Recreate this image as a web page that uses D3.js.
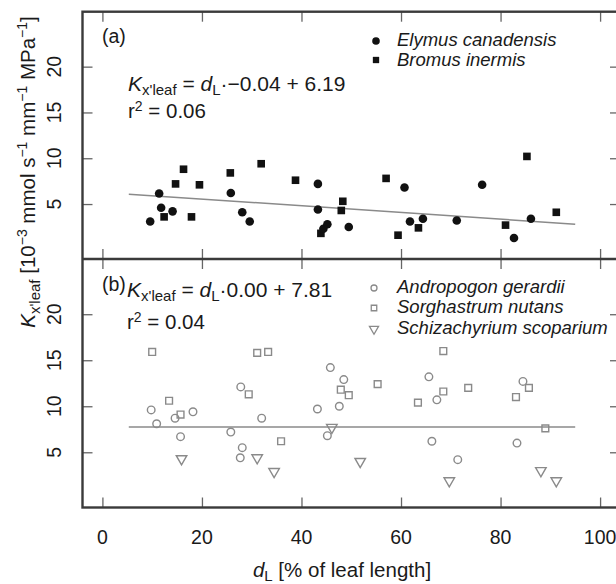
<html>
<script src="https://d3js.org/d3.v7.min.js"></script>
<style>
    body { margin: 0; background: #fff; }
    text { font-family: "Liberation Sans", Arial, sans-serif; fill: #1a1a1a; }
</style>
<svg width=616 height=584></svg>
<script>

    // values: [d_L, K]
    let elymus = [[9.6,3.1],[11.4,6.15],[11.8,4.6],[14.1,4.2],[25.8,6.2],[28.1,4.1],[29.6,3.1],
        [43.3,7.2],[43.3,4.4],[44.4,2.3],[45.2,2.8],[49.5,2.5],[60.7,6.8],[61.8,3.1],[64.4,3.4],
        [71.2,3.2],[76.3,7.1],[82.7,1.3],[86.1,3.4]];
    let bromus = [[12.4,3.6],[14.7,7.2],[16.3,8.8],[17.9,3.6],[19.5,7.1],[25.7,8.4],[31.9,9.4],
        [38.8,7.6],[43.9,1.8],[48.0,4.3],[48.3,5.3],[57.0,7.8],[59.4,1.6],[63.5,2.4],[81.0,2.7],
        [85.3,10.2],[91.2,4.1]];
    let andropogon = [[9.8,9.6],[10.9,8.1],[14.6,8.7],[15.7,6.7],[18.2,9.4],[25.8,7.2],[27.8,12.1],
        [28.1,5.5],[27.7,4.4],[32.0,8.7],[43.2,9.7],[45.8,14.2],[48.5,12.9],[47.6,10.0],[45.2,6.8],
        [65.6,13.2],[67.2,10.7],[66.2,6.2],[71.4,4.2],[84.5,12.7],[83.3,6.0]];
    let sorghastrum = [[10.0,15.9],[13.4,10.6],[15.7,9.1],[29.4,11.3],[31.1,15.8],[33.3,15.9],
        [35.9,6.2],[47.9,11.8],[49.5,11.2],[55.3,12.4],[63.4,10.4],[68.5,11.6],[68.5,16.0],
        [73.5,12.0],[83.1,11.0],[85.7,12.0],[89.0,7.6]];
    let schizachyrium = [[15.9,4.3],[31.1,4.4],[34.5,2.9],[46.1,7.7],[51.8,4.0],[69.7,1.9],
        [88.1,3.0],[91.2,1.9]];

    // fitted lines, end points
    let fitA = [[5.3,6.08],[95,2.8]];
    let fitB = [[5.3,7.76],[95,7.76]];

    let xTicks = [0,20,40,60,80,100];
    let yTicks = [5,10,15,20];

    let svg = d3.select('svg');
    let ink = '#3a3a3a', grey = '#8a8a8a';

    let x = d3.scaleLinear().domain([-4,104]).range([82.5,620]);
    let yA = d3.scaleLinear().domain([-1,26]).range([259,11.7]);
    let yB = d3.scaleLinear().domain([-1,26]).range([507.5,259]);

    function frameAxes(y) {
        let [b, t] = y.range();
        let g = svg.append('g');
        [[d3.axisBottom(x), b], [d3.axisTop(x), t]].forEach(([ax, pos]) => {
            g.append('g').attr('transform', 'translate(0,' + pos + ')')
                .call(ax.tickValues(xTicks).tickSize(-10).tickFormat(''))
                .call(a => a.select('.domain').remove())
                .selectAll('line').attr('stroke', '#666').attr('stroke-width', 1.3);
        });
        [[d3.axisLeft(y), x.range()[0]], [d3.axisRight(y), x.range()[1]]].forEach(([ax, pos]) => {
            g.append('g').attr('transform', 'translate(' + pos + ',0)')
                .call(ax.tickValues(yTicks).tickSize(-10).tickFormat(''))
                .call(a => a.select('.domain').remove())
                .selectAll('line').attr('stroke', '#666').attr('stroke-width', 1.3);
        });
        g.selectAll('.ylab').data(yTicks).enter().append('text')
            .attr('transform', d => 'translate(61,' + y(d) + ') rotate(-90)')
            .attr('text-anchor', 'middle').style('font-size', '19.5px')
            .text(d => d);
    }
    frameAxes(yA);
    frameAxes(yB);

    svg.append('g').selectAll('text').data(xTicks).enter().append('text')
        .attr('x', d => x(d)).attr('y', 544)
        .attr('text-anchor', 'middle').style('font-size', '19.5px')
        .text(d => d);

    let line = y => d3.line().x(d => x(d[0])).y(d => y(d[1]));
    svg.append('path').datum(fitA).attr('d', line(yA))
        .attr('stroke', grey).attr('stroke-width', 1.5).attr('fill', 'none');
    svg.append('path').datum(fitB).attr('d', line(yB))
        .attr('stroke', grey).attr('stroke-width', 1.5).attr('fill', 'none');

    let sq = d3.symbol().type(d3.symbolSquare);
    let tri = d3.symbol().type(d3.symbolTriangle);

    // panel (a)
    svg.append('g').selectAll('path').data(bromus).enter().append('path')
        .attr('d', sq.size(58)())
        .attr('transform', d => 'translate(' + x(d[0]) + ',' + yA(d[1]) + ')')
        .attr('fill', '#111');
    svg.append('g').selectAll('circle').data(elymus).enter().append('circle')
        .attr('cx', d => x(d[0])).attr('cy', d => yA(d[1])).attr('r', 4.3)
        .attr('fill', '#111');

    // panel (b)
    svg.append('g').selectAll('circle').data(andropogon).enter().append('circle')
        .attr('cx', d => x(d[0])).attr('cy', d => yB(d[1])).attr('r', 3.8)
        .attr('fill', 'none').attr('stroke', grey).attr('stroke-width', 1.4);
    svg.append('g').selectAll('path').data(sorghastrum).enter().append('path')
        .attr('d', sq.size(46)())
        .attr('transform', d => 'translate(' + x(d[0]) + ',' + yB(d[1]) + ')')
        .attr('fill', 'none').attr('stroke', grey).attr('stroke-width', 1.4);
    svg.append('g').selectAll('path').data(schizachyrium).enter().append('path')
        .attr('d', tri.size(48)())
        .attr('transform', d => 'translate(' + x(d[0]) + ',' + yB(d[1]) + ') rotate(180)')
        .attr('fill', 'none').attr('stroke', grey).attr('stroke-width', 1.4);

    // frame on top
    svg.append('rect').attr('x', 82.5).attr('y', 11.7).attr('width', 537.5).attr('height', 495.8)
        .attr('fill', 'none').attr('stroke', ink).attr('stroke-width', 2.4);
    svg.append('line').attr('x1', 82.5).attr('x2', 620).attr('y1', 259).attr('y2', 259)
        .attr('stroke', ink).attr('stroke-width', 2.4);

    // panel text
    function equation(tx, ty, slope, icpt) {
        let t = svg.append('text').attr('x', tx).attr('y', ty).style('font-size', '21px');
        t.append('tspan').style('font-style', 'italic').text('K');
        t.append('tspan').attr('dy', 4).style('font-size', '15px').text("x'leaf");
        t.append('tspan').attr('dy', -4).text(' = ');
        t.append('tspan').style('font-style', 'italic').text('d');
        t.append('tspan').attr('dy', 4).style('font-size', '15px').text('L');
        t.append('tspan').attr('dy', -4).text('·' + slope + ' + ' + icpt);
    }
    function rsq(tx, ty, v) {
        let t = svg.append('text').attr('x', tx).attr('y', ty).style('font-size', '20.5px');
        t.append('tspan').text('r');
        t.append('tspan').attr('dy', -7).style('font-size', '14px').text('2');
        t.append('tspan').attr('dy', 7).text(' = ' + v);
    }

    svg.append('text').attr('x', 102).attr('y', 43).style('font-size', '19.5px').text('(a)');
    equation(128, 91, '−0.04', '6.19');
    rsq(128, 118, '0.06');

    svg.append('text').attr('x', 102).attr('y', 291).style('font-size', '19.5px').text('(b)');
    equation(127, 297, '0.00', '7.81');
    rsq(127, 329, '0.04');

    // legends
    let legA = [['Elymus canadensis', 'c', 46], ['Bromus inermis', 's', 66]];
    legA.forEach(([name, m, by]) => {
        if (m == 'c') svg.append('circle').attr('cx', 376).attr('cy', by - 5).attr('r', 3.8).attr('fill', '#111');
        else svg.append('path').attr('d', sq.size(40)()).attr('transform', 'translate(376,' + (by - 6) + ')').attr('fill', '#111');
        svg.append('text').attr('x', 397).attr('y', by).style('font-size', '18.5px')
            .style('font-style', 'italic').text(name);
    });
    let legB = [['Andropogon gerardii', 'c', 293], ['Sorghastrum nutans', 's', 313], ['Schizachyrium scoparium', 't', 334]];
    legB.forEach(([name, m, by]) => {
        let cy = by - 5;
        if (m == 'c') svg.append('circle').attr('cx', 374).attr('cy', cy).attr('r', 3)
            .attr('fill', 'none').attr('stroke', grey).attr('stroke-width', 1.3);
        else svg.append('path').attr('d', (m == 's' ? sq.size(30) : tri.size(36))())
            .attr('transform', 'translate(374,' + cy + ')' + (m == 't' ? ' rotate(180)' : ''))
            .attr('fill', 'none').attr('stroke', grey).attr('stroke-width', 1.3);
        svg.append('text').attr('x', 397).attr('y', by).style('font-size', '18.5px')
            .style('font-style', 'italic').text(name);
    });

    // axis titles
    let xl = svg.append('text').attr('x', 342).attr('y', 577).attr('text-anchor', 'middle').style('font-size', '20.5px');
    xl.append('tspan').style('font-style', 'italic').text('d');
    xl.append('tspan').attr('dy', 4).style('font-size', '15px').text('L');
    xl.append('tspan').attr('dy', -4).text(' [% of leaf length]');

    let yl = svg.append('text').attr('transform', 'translate(35,172) rotate(-90)')
        .attr('text-anchor', 'middle').style('font-size', '20.5px');
    yl.append('tspan').style('font-style', 'italic').text('K');
    yl.append('tspan').attr('dy', 5).style('font-size', '15px').text("x'leaf");
    yl.append('tspan').attr('dy', -5).text(' [10');
    [['−3', ' mmol s'], ['−1', ' mm'], ['−1', ' MPa'], ['−1', ']']].forEach(([sup, rest]) => {
        yl.append('tspan').attr('dy', -8).style('font-size', '14px').text(sup);
        yl.append('tspan').attr('dy', 8).text(rest);
    });

</script>
</html>
